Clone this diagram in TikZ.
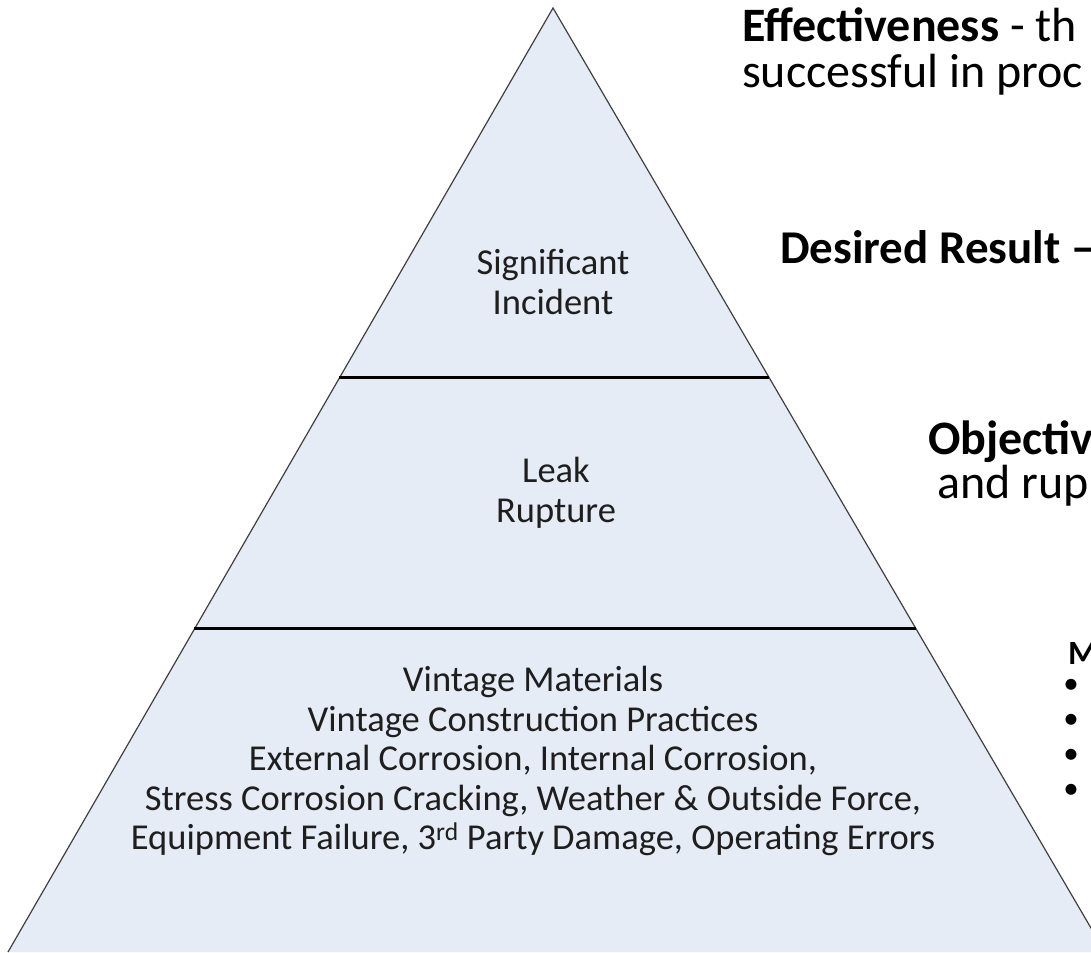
\documentclass[tikz,border=0pt]{standalone}
\usepackage{fontspec}
\setmainfont{Carlito}
\usetikzlibrary{calc}
\definecolor{pyrfill}{HTML}{E6ECF6}
\definecolor{pyredge}{HTML}{404040}
\definecolor{txt}{HTML}{1E1E1E}
\begin{document}
\begin{tikzpicture}[x=1pt,y=-1pt,
  pyredgeline/.style={draw=pyredge, line width=1.2pt},
  divider/.style={draw=black, line width=3pt},
  pyrlabel/.style={font=\fontsize{36.5}{39.5}\selectfont, text=txt, align=center, inner sep=0pt},
  sidetext/.style={font=\fontsize{48}{52}\selectfont, text=black, anchor=base west, inner sep=0pt},
  listhead/.style={font=\fontsize{34}{36}\selectfont\bfseries, text=black, anchor=base west, inner sep=0pt},
  bulletmark/.style={font=\fontsize{31}{34}\selectfont, text=black, inner sep=0pt}]
\useasboundingbox (0,0) rectangle (1091,952);
\clip (0,0) rectangle (1091,952);
\fill[white] (0,0) rectangle (1091,952);
% pyramid
\coordinate (apex) at (553,8);
\coordinate (bl) at (8,952);
\coordinate (br) at (1105,952);
\fill[pyrfill] (bl) -- (apex) -- (br) -- cycle;
\draw[pyredgeline] (bl) -- (apex) -- (br);
\coordinate (d1l) at ($(apex)!0.3919!(bl)$);
\coordinate (d1r) at ($(apex)!0.3919!(br)$);
\coordinate (d2l) at ($(apex)!0.6578!(bl)$);
\coordinate (d2r) at ($(apex)!0.6578!(br)$);
\draw[divider] (d1l) -- (d1r);
\draw[divider] (d2l) -- (d2r);
% pyramid labels
\node[pyrlabel] (sig) at (553,282) {Significant\\Incident};
\node[pyrlabel] (leak) at (556,493) {Leak\\Rupture};
\node[pyrlabel] (causes) at (533,761) {Vintage Materials\\Vintage Construction Practices\\External Corrosion, Internal Corrosion,\\Stress Corrosion Cracking, Weather \& Outside Force,\\Equipment Failure, 3\textsuperscript{rd} Party Damage, Operating Errors};
% right-hand texts
\node[sidetext] (eff) at (742,42) {\textbf{Effectiveness} - th};
\node[sidetext] (succ) at (742,88) {successful in proc};
\node[sidetext, font=\fontsize{47}{52}\selectfont] (des) at (780,263) {\textbf{Desired Result –}};
\node[sidetext] (obj) at (928,454) {\textbf{Objectiv}};
\node[sidetext] (rup) at (937,498) {and rup};
\node[listhead] (mhead) at (1068,664) {M};
\node[bulletmark] (b1) at (1071,686) {•};
\node[bulletmark] (b2) at (1071,721) {•};
\node[bulletmark] (b3) at (1071,756) {•};
\node[bulletmark] (b4) at (1071,791) {•};
\end{tikzpicture}
\end{document}
